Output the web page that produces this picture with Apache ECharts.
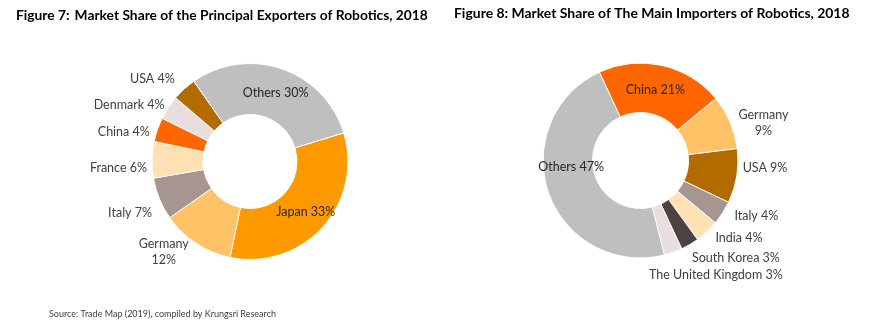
<!DOCTYPE html>
<html><head><meta charset="utf-8">
<script src="https://cdn.jsdelivr.net/npm/echarts@6/dist/echarts.min.js"></script>
<style>html,body{margin:0;padding:0;background:#fff}#c{width:870px;height:329px}</style>
</head><body><div id="c"></div>
<script>
// Figure 7 – exporters
const exportCountries = ['Japan','Germany','Italy','France','China','Denmark','USA','Others'];
const exportShares = [33, 12, 7, 6, 4, 4, 4, 30];
// Figure 8 – importers
const importCountries = ['China','Germany','USA','Italy','India','South Korea','The United Kingdom','Others'];
const importShares = [21, 9, 9, 4, 4, 3, 3, 47];

const titleLeft = 'Market Share of the Principal Exporters of Robotics, 2018';
const titleRight = 'Figure 8: Market Share of The Main Importers of Robotics, 2018';
const sourceText = 'Source: Trade Map (2019), compiled by Krungsri Research';

const colorMap = {
  'Japan':'#FF9900','Germany':'#FFC266','Italy':'#A79592','France':'#FFE1B3',
  'China':'#FF6600','Denmark':'#E8DEDE','USA':'#B36B00','Others':'#BFBFBF',
  'India':'#FFE1B3','South Korea':'#4D4141','The United Kingdom':'#E8DEDE'
};
const FONT = 'Lato';
const insideNames = {left:['Japan','Others'], right:['China','Others']};
const twoLine = {'Germany':true};
// label nudges (style only), per series then per category name
const nudge = [
  {'USA':[-1,-4],'Denmark':[6,2],'China':[3,5],'France':[6,8],'Italy':[3,11],'Germany':[0,2],'Others':[1,3],'Japan':[0,0]},
  {'China':[-2,3],'Germany':[-2,4],'USA':[-5,-9],'Italy':[2,-1],'India':[0,0],'South Korea':[-5,6],'The United Kingdom':[-30,15],'Others':[2,-19]}
];
const seriesNames = [exportCountries, importCountries];

function buildData(names, vals, side){
  return names.map((n,i)=>{
    const inside = insideNames[side].includes(n);
    const item = {name:n, value:vals[i], itemStyle:{color:colorMap[n]}};
    if (inside) item.label = {position:'inside', color:'#262626'};
    return item;
  });
}
function fmt(p){ return twoLine[p.name] ? p.name + '\n' + p.value + '%' : p.name + ' ' + p.value + '%'; }
function layout(params){
  const name = seriesNames[params.seriesIndex][params.dataIndex];
  const d = nudge[params.seriesIndex][name] || [0,0];
  const r = params.labelRect;
  return {x: r.x + r.width/2 + d[0], y: r.y + r.height/2 + d[1], align:'center', verticalAlign:'middle', hideOverlap:false, moveOverlap:null};
}

const chart = echarts.init(document.getElementById('c'), null, {renderer:'canvas'});
const baseSeries = {
  type:'pie', clockwise:true, avoidLabelOverlap:false,
  itemStyle:{borderColor:'#fff', borderWidth:1},
  label:{show:true, position:'outside', formatter:fmt, fontFamily:FONT, fontSize:12.5, color:'#404040', lineHeight:16, distanceToLabelLine:3},
  labelLine:{show:false, length:8, length2:0},
  labelLayout:layout,
  emphasis:{disabled:true}, animation:false
};
chart.setOption({
  animation:false,
  title:[
    {left:16, top:7, padding:0, text:'{b|Figure 7}{n|:} {b|'+titleLeft+'}',
     textStyle:{rich:{b:{fontFamily:FONT, fontWeight:'bold', fontSize:13.8, color:'#000'}, n:{fontFamily:FONT, fontSize:13.8, color:'#000'}}}},
    {left:454, top:7, padding:0, text:titleRight, textStyle:{fontFamily:FONT, fontWeight:'bold', fontSize:13.95, color:'#000'}},
    {left:49, top:310, padding:0, text:sourceText, textStyle:{fontFamily:FONT, fontWeight:'normal', fontSize:9, color:'#404040'}}
  ],
  series:[
    Object.assign({}, baseSeries, {center:[250,161.5], radius:[47,98], startAngle:17, data:buildData(exportCountries, exportShares, 'left')}),
    Object.assign({}, baseSeries, {center:[640.5,160.5], radius:[48,97.5], startAngle:115, data:buildData(importCountries, importShares, 'right')})
  ]
});
</script></body></html>
